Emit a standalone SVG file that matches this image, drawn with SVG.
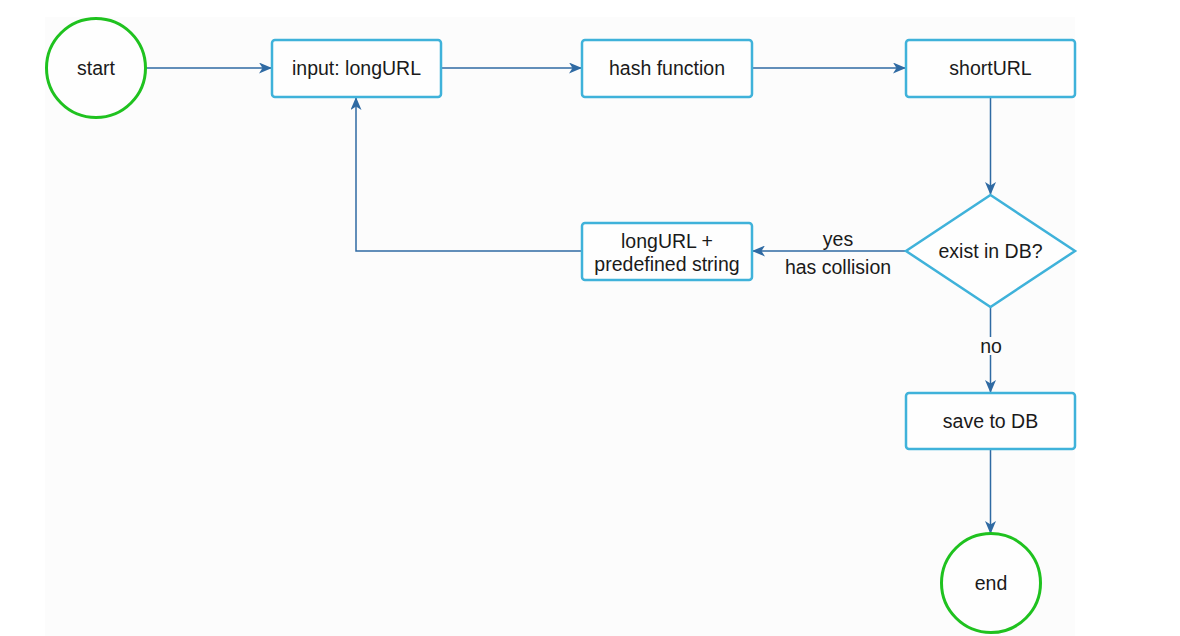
<svg xmlns="http://www.w3.org/2000/svg" width="1180" height="636" viewBox="0 0 1180 636">
<style>
.bg{fill:#fcfcfc}
.box{fill:#fefefe;stroke:#3fb2da;stroke-width:2.5}
.term{fill:#fefefe;stroke:#1fc21f;stroke-width:3}
.edge{fill:none;stroke:#2f6aa3;stroke-width:1.5}
.t{font-family:"Liberation Sans",Arial,sans-serif;font-size:19.5px;fill:#1a1a1a;text-anchor:middle}
.lbl{fill:#fcfcfc}
</style>
<defs>
<marker id="arr" viewBox="0 0 13 11" refX="12" refY="5.5" markerWidth="13" markerHeight="11" markerUnits="userSpaceOnUse" orient="auto">
<path d="M0,0 L13,5.5 L0,11 L3.5,5.5 Z" fill="#2f6aa3"/>
</marker>
</defs>
<rect class="bg" x="45" y="17" width="1030" height="619"/>
<g id="connectors">
<line class="edge" x1="146" y1="68" x2="271" y2="68" marker-end="url(#arr)"/>
<line class="edge" x1="441" y1="68" x2="581" y2="68" marker-end="url(#arr)"/>
<line class="edge" x1="752" y1="68" x2="905" y2="68" marker-end="url(#arr)"/>
<line class="edge" x1="990.5" y1="97" x2="990.5" y2="194" marker-end="url(#arr)"/>
<line class="edge" x1="906" y1="251" x2="753" y2="251" marker-end="url(#arr)"/>
<polyline class="edge" points="582,251 356,251 356,98" marker-end="url(#arr)"/>
<line class="edge" x1="990.5" y1="307" x2="990.5" y2="392" marker-end="url(#arr)"/>
<line class="edge" x1="990.5" y1="449" x2="990.5" y2="533" marker-end="url(#arr)"/>
<rect class="lbl" x="978" y="337" width="26" height="18"/>
<text class="t" x="991" y="353">no</text>
<text class="t" x="838" y="246">yes</text>
<text class="t" x="838" y="274">has collision</text>
</g>
<g id="start">
<circle class="term" cx="96" cy="68" r="49.5"/>
<text class="t" x="96" y="75">start</text>
</g>
<g id="input">
<rect class="box" x="272" y="40" width="169" height="57" rx="3"/>
<text class="t" x="356.5" y="75">input: longURL</text>
</g>
<g id="hash">
<rect class="box" x="582" y="40" width="170" height="57" rx="3"/>
<text class="t" x="667" y="75">hash function</text>
</g>
<g id="shortURL">
<rect class="box" x="906" y="40" width="169" height="57" rx="3"/>
<text class="t" x="990.5" y="75">shortURL</text>
</g>
<g id="exist">
<polygon class="box" points="990.5,195 1075,251 990.5,307 906,251"/>
<text class="t" x="990.5" y="258">exist in DB?</text>
</g>
<g id="predefined">
<rect class="box" x="582" y="223" width="170" height="57" rx="3"/>
<text class="t" x="667" y="248">longURL +</text>
<text class="t" x="667" y="271">predefined string</text>
</g>
<g id="save">
<rect class="box" x="906" y="393" width="169" height="56" rx="3"/>
<text class="t" x="990.5" y="428">save to DB</text>
</g>
<g id="end">
<circle class="term" cx="991" cy="583" r="49.5"/>
<text class="t" x="991" y="590">end</text>
</g>
</svg>
